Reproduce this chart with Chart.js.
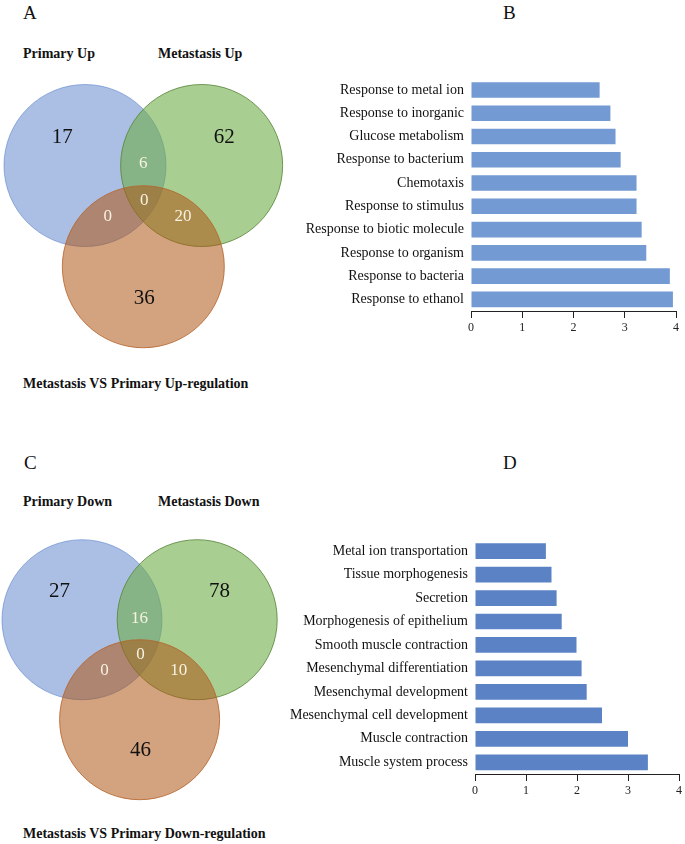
<!DOCTYPE html>
<html>
<head>
<meta charset="utf-8">
<script src="https://cdn.jsdelivr.net/npm/chart.js@4"></script>
<style>
  html,body{margin:0;padding:0;background:#fff;}
  body{width:685px;height:844px;position:relative;overflow:hidden;font-family:"Liberation Serif","Times New Roman",serif;color:#111;}
  .box{position:absolute;}
  .letter{position:absolute;font-size:19px;line-height:1;}
  .lbl{position:absolute;font-size:14px;font-weight:bold;line-height:1;white-space:nowrap;}
</style>
</head>
<body>
<div class="letter" style="left:23px;top:3px">A</div>
<div class="letter" style="left:503px;top:3px">B</div>
<div class="letter" style="left:24px;top:453px">C</div>
<div class="letter" style="left:503px;top:453px">D</div>

<div class="lbl" style="left:23px;top:47px">Primary Up</div>
<div class="lbl" style="left:158px;top:47px">Metastasis Up</div>
<div class="lbl" style="left:23px;top:377px">Metastasis VS Primary Up-regulation</div>
<div class="lbl" style="left:23px;top:495px">Primary Down</div>
<div class="lbl" style="left:158px;top:495px">Metastasis Down</div>
<div class="lbl" style="left:23px;top:827px">Metastasis VS Primary Down-regulation</div>

<div class="box" style="left:0;top:0;width:340px;height:400px"><canvas id="vennUp"></canvas></div>
<div class="box" style="left:0;top:454px;width:340px;height:380px"><canvas id="vennDown"></canvas></div>
<div class="box" style="left:295px;top:63px;width:390px;height:273px"><canvas id="barUp"></canvas></div>
<div class="box" style="left:280px;top:524px;width:405px;height:275px"><canvas id="barDown"></canvas></div>

<script>
// ── data ──────────────────────────────────────────────
// venn circles (unit radius): Primary, Metastasis, Metastasis VS Primary
const circleX=[0,1.44,0.72];
const circleY=[0,0,-1.25];
const circleR=1;
// region order: primary only, metastasis only, P∩M, all three, P∩MvsP, M∩MvsP, MvsP only
const regionX=[-0.28,1.72,0.72,0.73,0.28,1.21,0.73];
const regionY=[0.35,0.35,0.02,-0.43,-0.63,-0.63,-1.64];
const upCounts=[17,62,6,0,0,20,36];
const downCounts=[27,78,16,0,0,10,46];

const upTerms=['Response to metal ion','Response to inorganic','Glucose metabolism','Response to bacterium','Chemotaxis','Response to stimulus','Response to biotic molecule','Response to organism','Response to bacteria','Response to ethanol'];
const upScores=[2.51,2.72,2.82,2.92,3.23,3.23,3.33,3.42,3.88,3.94];

const downTerms=['Metal ion transportation','Tissue morphogenesis','Secretion','Morphogenesis of epithelium','Smooth muscle contraction','Mesenchymal differentiation','Mesenchymal development','Mesenchymal cell development','Muscle contraction','Muscle system process'];
const downScores=[1.39,1.5,1.6,1.7,1.99,2.09,2.19,2.49,3.0,3.39];

const xTicks=[0,1,2,3,4];

// ── styles ────────────────────────────────────────────
const SERIF='"Liberation Serif","Times New Roman",serif';
const circleFill=['rgba(68,114,196,0.45)','rgba(112,173,71,0.6)','rgba(175,85,20,0.55)'];
const circleLine=['rgba(68,114,196,0.5)','rgba(84,130,53,0.8)','rgba(180,98,40,0.8)'];
const whiteRegion=[false,false,true,true,true,true,false];

// ── venn ──────────────────────────────────────────────
const countLabels={
  id:'countLabels',
  afterDatasetsDraw(chart,args,opts){
    const {ctx,scales:{x,y}}=chart;
    ctx.save();
    ctx.textAlign='center';ctx.textBaseline='middle';
    opts.counts.forEach((c,i)=>{
      const white=whiteRegion[i];
      ctx.font=(white?'17px ':'21px ')+SERIF;
      ctx.fillStyle=white?'#f7f2e2':'#111';
      ctx.fillText(String(c),x.getPixelForValue(regionX[i]),y.getPixelForValue(regionY[i]));
    });
    ctx.restore();
  }
};

function unitPx(c){const s=c.chart.scales.x;return Math.abs(s.getPixelForValue(circleR)-s.getPixelForValue(0));}

function makeVenn(id,counts,pxPerUnit,cx,cy,w,h){
  // map unit circle so that primary centre sits at (cx,cy) px
  const xmin=-cx/pxPerUnit, ymax=cy/pxPerUnit;
  return new Chart(document.getElementById(id),{
    type:'scatter',
    data:{datasets:[{
      data:circleX.map((v,i)=>({x:v,y:circleY[i]})),
      backgroundColor:circleFill,
      borderColor:circleLine,
      borderWidth:1,
      pointRadius:unitPx,
      pointHoverRadius:unitPx
    }]},
    options:{
      responsive:true,maintainAspectRatio:false,animation:false,events:[],
      layout:{padding:0},
      scales:{
        x:{type:'linear',display:false,min:xmin,max:xmin+w/pxPerUnit},
        y:{type:'linear',display:false,min:ymax-h/pxPerUnit,max:ymax}
      },
      plugins:{legend:{display:false},tooltip:{enabled:false},countLabels:{counts}}
    },
    plugins:[countLabels]
  });
}

makeVenn('vennUp',upCounts,81,85,165.5,340,400);
makeVenn('vennDown',downCounts,80,82,619.7-454,340,380);

// ── bars ──────────────────────────────────────────────
function makeBars(id,terms,scores,color,yWidth,padRight){
  return new Chart(document.getElementById(id),{
    type:'bar',
    data:{labels:terms,datasets:[{data:scores,backgroundColor:color,borderWidth:0,categoryPercentage:1,barPercentage:0.67}]},
    options:{
      indexAxis:'y',responsive:true,maintainAspectRatio:false,animation:false,events:[],
      layout:{padding:{right:padRight,top:0,bottom:0,left:0}},
      scales:{
        y:{
          grid:{display:false,drawTicks:false},border:{display:false},
          ticks:{color:'#111',padding:7,font:{family:SERIF,size:14}},
          afterFit:s=>{s.width=yWidth;}
        },
        x:{
          min:xTicks[0],max:xTicks[xTicks.length-1],
          afterBuildTicks:s=>{s.ticks=xTicks.map(v=>({value:v}));},
          grid:{drawOnChartArea:false,drawTicks:true,tickLength:7,color:'#222',lineWidth:1},
          border:{display:true,color:'#222',width:1},
          ticks:{color:'#222',padding:3,font:{family:SERIF,size:12}},
          afterFit:s=>{s.height=25;}
        }
      },
      plugins:{legend:{display:false},tooltip:{enabled:false}}
    }
  });
}

makeBars('barUp',upTerms,upScores,'#739ad3',176,9);
makeBars('barDown',downTerms,downScores,'#5b82c5',195,4);
</script>
</body>
</html>
